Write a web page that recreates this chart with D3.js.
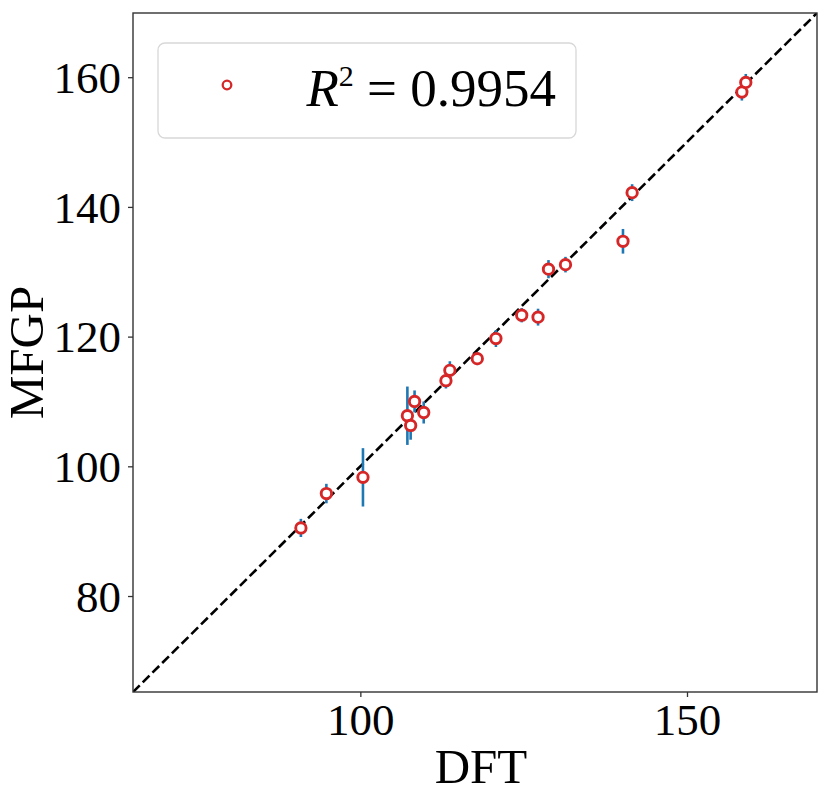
<!DOCTYPE html>
<html>
<head>
<meta charset="utf-8">
<script src="https://cdn.jsdelivr.net/npm/d3@7"></script>
<style>
  html, body { margin: 0; padding: 0; background: #fff; }
  svg { display: block; }
</style>
</head>
<body>
<svg id="chart" width="831" height="802"></svg>
<script>
// ---- data ----
const dftValues  = [90.9, 94.8, 100.4, 107.2, 107.7, 108.3, 109.7, 113.1, 113.7, 117.9, 120.75, 124.7, 127.2, 128.8, 131.4, 140.2, 141.6, 158.4, 159.0];
const mfgpValues = [90.5, 95.8, 98.3, 107.8, 106.3, 110.0, 108.3, 113.2, 114.8, 116.6, 119.7, 123.3, 123.0, 130.4, 131.1, 134.7, 142.2, 157.7, 159.2];
const mfgpErrors = [1.4, 1.5, 4.5, 4.5, 2.2, 1.7, 1.7, 1.2, 1.4, 1.0, 1.3, 1.1, 1.3, 1.4, 1.2, 1.9, 1.3, 1.3, 1.3];
const axisLimits = [65.2, 169.9];
const xTicks = [100, 150];
const yTicks = [80, 100, 120, 140, 160];
const r2Label = "0.9954";

(function () {
const points = dftValues.map((d, i) => ({x: d, y: mfgpValues[i], e: mfgpErrors[i]}));

const svg = d3.select("#chart");
const pL = 133, pR = 817, pT = 13, pB = 692;
const font = "'Liberation Serif', 'DejaVu Serif', serif";

const x = d3.scaleLinear().domain(axisLimits).range([pL, pR]);
const y = d3.scaleLinear().domain(axisLimits).range([pB, pT]);

svg.append("defs").append("clipPath").attr("id", "clip")
  .append("rect").attr("x", pL).attr("y", pT).attr("width", pR - pL).attr("height", pB - pT);

const plot = svg.append("g").attr("clip-path", "url(#clip)");

// diagonal dashed line
plot.append("line")
  .attr("x1", x(axisLimits[0])).attr("y1", y(axisLimits[0]))
  .attr("x2", x(axisLimits[1])).attr("y2", y(axisLimits[1]))
  .attr("stroke", "#000").attr("stroke-width", 2.6)
  .attr("stroke-dasharray", "9.5,4.2");

// error bars
plot.selectAll("line.err").data(points).enter().append("line")
  .attr("class", "err")
  .attr("x1", d => x(d.x)).attr("x2", d => x(d.x))
  .attr("y1", d => y(d.y - d.e)).attr("y2", d => y(d.y + d.e))
  .attr("stroke", "#1f77b4").attr("stroke-width", 2.6);

// markers
plot.selectAll("circle.pt").data(points).enter().append("circle")
  .attr("class", "pt")
  .attr("cx", d => x(d.x)).attr("cy", d => y(d.y))
  .attr("r", 5.2)
  .attr("fill", "#fff").attr("stroke", "#d62728").attr("stroke-width", 2.9);

// axes
const xAxis = d3.axisBottom(x).tickValues(xTicks).tickSize(5).tickPadding(8).tickFormat(d3.format("d"));
const yAxis = d3.axisLeft(y).tickValues(yTicks).tickSize(5).tickPadding(7).tickFormat(d3.format("d"));

const gx = svg.append("g").attr("transform", `translate(0,${pB})`).call(xAxis);
const gy = svg.append("g").attr("transform", `translate(${pL},0)`).call(yAxis);
[gx, gy].forEach(g => {
  g.select(".domain").remove();
  g.selectAll(".tick line").attr("stroke", "#333").attr("stroke-width", 1.3);
  g.selectAll(".tick text").attr("fill", "#000").style("font-family", font).style("font-size", "45px");
});
gx.selectAll(".tick text").attr("dy", null).attr("y", 43);
gy.selectAll(".tick text").attr("dy", "0.34em");

// frame
svg.append("rect")
  .attr("x", pL).attr("y", pT).attr("width", pR - pL).attr("height", pB - pT)
  .attr("fill", "none").attr("stroke", "#333").attr("stroke-width", 1.4);

// axis labels
svg.append("text").attr("x", (pL + pR) / 2 + 6).attr("y", 783)
  .attr("text-anchor", "middle").style("font-family", font).style("font-size", "49px")
  .text("DFT");
svg.append("text")
  .attr("transform", `translate(43,${(pT + pB) / 2}) rotate(-90)`)
  .attr("text-anchor", "middle").style("font-family", font).style("font-size", "49px")
  .text("MFGP");

// legend
const lg = svg.append("g");
lg.append("rect").attr("x", 158).attr("y", 43).attr("width", 418).attr("height", 95)
  .attr("rx", 7).attr("ry", 7)
  .attr("fill", "#fff").attr("fill-opacity", 0.8)
  .attr("stroke", "#d8d8d8").attr("stroke-width", 1.3);
lg.append("circle").attr("cx", 227).attr("cy", 85).attr("r", 4.3)
  .attr("fill", "#fff").attr("stroke", "#d62728").attr("stroke-width", 2.3);
const lt = lg.append("text").attr("x", 556).attr("y", 106).attr("text-anchor", "end")
  .style("font-family", font).style("font-size", "53px");
lt.append("tspan").style("font-style", "italic").text("R");
lt.append("tspan").attr("dy", -20).style("font-size", "30px").text("2");
lt.append("tspan").attr("dy", 20).text(" = " + r2Label);
})();
</script>
</body>
</html>
